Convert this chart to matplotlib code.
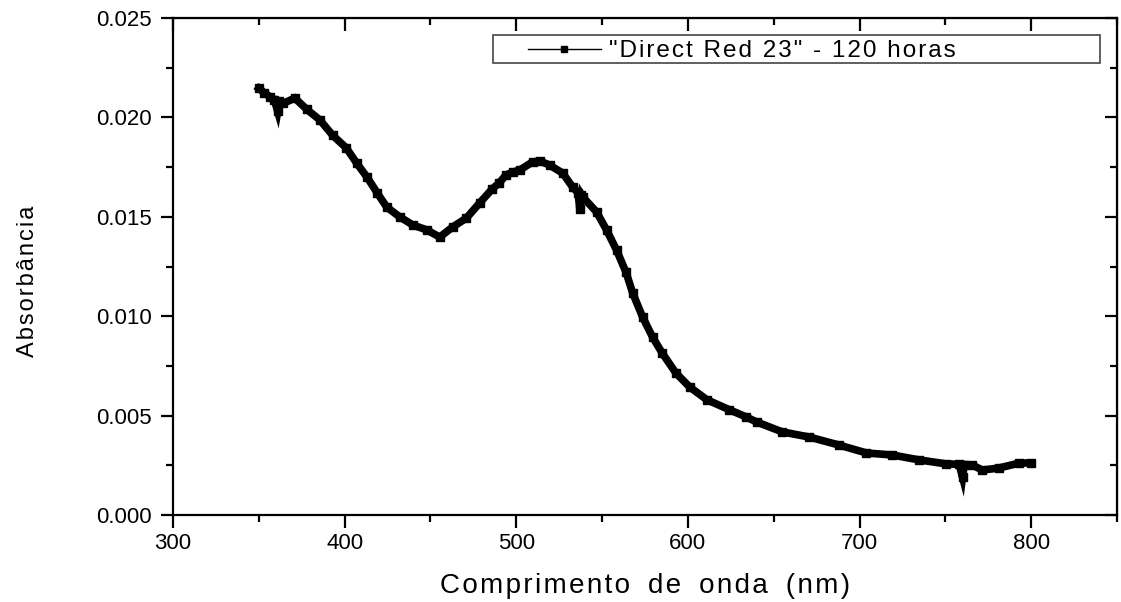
import matplotlib
matplotlib.use("Agg")
import matplotlib.pyplot as plt
from matplotlib.lines import Line2D
from matplotlib.patches import Rectangle
from matplotlib.ticker import MultipleLocator, FormatStrFormatter

wavelength = [350, 353, 356.5, 359, 361, 362, 364, 371, 378, 385.6, 393, 401, 407,
              413, 419, 424.5, 432, 439.7, 447.8, 455.4, 463, 471, 478.7, 486, 490,
              494, 498, 502, 509.5, 514, 519.4, 527, 532.8, 536, 537, 538, 538.7,
              546.8, 552.6, 558.4, 564, 567.8, 573.6, 579.4, 585, 593, 601, 611,
              624, 634, 640, 655, 670.8, 688, 704, 719, 734.8, 750.5, 758, 760, 761,
              765.6, 771.5, 781, 793, 800]
absorbance = [0.02146, 0.02125, 0.02104, 0.0209, 0.0203, 0.0208, 0.0207, 0.02097,
              0.0204, 0.01987, 0.0191, 0.01846, 0.0177, 0.0170, 0.0162, 0.01549,
              0.0150, 0.01459, 0.01434, 0.01398, 0.01449, 0.01494, 0.0157, 0.0164,
              0.0167, 0.0171, 0.01725, 0.01735, 0.01776, 0.0178, 0.0176, 0.0172,
              0.0165, 0.0162, 0.0154, 0.0161, 0.0160, 0.01524, 0.01434, 0.01333,
              0.0122, 0.01117, 0.00996, 0.00895, 0.00815, 0.00714, 0.00644, 0.0058,
              0.0053, 0.00493, 0.00468, 0.00418, 0.00392, 0.00352, 0.00312, 0.00302,
              0.00277, 0.00257, 0.00255, 0.0019, 0.00254, 0.00252, 0.00226, 0.00236,
              0.00261, 0.00262]
series_label = '"Direct Red 23" - 120 horas'
x_label = "Comprimento de onda (nm)"
y_label = "Absorbância"
x_ticks = [300, 400, 500, 600, 700, 800]

plt.rcParams['font.family'] = ['Liberation Sans', 'DejaVu Sans']

HAIR = '\u200a'
THIN = '\u2009'


def spaced(s, sep=HAIR, word_extra=''):
    out = sep.join(s)
    if word_extra:
        out = out.replace(' ', ' ' + word_extra)
    return out


fig = plt.figure(figsize=(11.21, 6.02), dpi=100)
ax = fig.add_axes([173/1121, 87/602, 944/1121, 497/602])

ax.plot(wavelength, absorbance, color='black', lw=5.5, marker='s', ms=5.5,
        solid_joinstyle='miter')

ax.set_xlim(300, 850)
ax.set_ylim(0, 0.025)
ax.set_xticks(x_ticks)
ax.xaxis.set_minor_locator(MultipleLocator(50))
ax.yaxis.set_major_locator(MultipleLocator(0.005))
ax.yaxis.set_minor_locator(MultipleLocator(0.0025))
ax.yaxis.set_major_formatter(FormatStrFormatter('%.3f'))

for s in ax.spines.values():
    s.set_linewidth(1.6)

ax.tick_params(axis='both', which='major', direction='out', length=9, width=1.6,
               labelsize=16)
ax.tick_params(axis='x', which='major', pad=4)
ax.tick_params(axis='y', which='major', pad=6)
ax.tick_params(axis='both', which='minor', direction='out', length=5, width=1.6)

# top and right ticks pointing inward
axt = ax.secondary_xaxis('top')
axt.xaxis.set_major_locator(MultipleLocator(100))
axt.xaxis.set_minor_locator(MultipleLocator(50))
axt.tick_params(which='major', direction='in', length=9, width=1.6, labeltop=False)
axt.tick_params(which='minor', direction='in', length=5, width=1.6)
axr = ax.secondary_yaxis('right')
axr.yaxis.set_major_locator(MultipleLocator(0.005))
axr.yaxis.set_minor_locator(MultipleLocator(0.0025))
axr.tick_params(which='major', direction='in', length=9, width=1.6, labelright=False)
axr.tick_params(which='minor', direction='in', length=5, width=1.6)

ax.set_xlabel(spaced(x_label, HAIR, THIN), fontsize=20)
ax.xaxis.set_label_coords(0.5, -0.116)
ax.set_ylabel(spaced(y_label), fontsize=17)
ax.yaxis.set_label_coords(-0.142, 0.471)

# legend frame (wide Origin-style box)
ax.add_patch(Rectangle((0.339, 0.9095), 0.643, 0.0563, transform=ax.transAxes,
                       facecolor='white', edgecolor='#444444', lw=1.2, zorder=4))
handle = Line2D([], [], color='black', lw=1, marker='s', ms=4)
leg = ax.legend([handle], [spaced(series_label)], loc='center left',
                bbox_to_anchor=(0.376, 0.9336), borderaxespad=0, borderpad=0,
                fontsize=17.5, frameon=False, handlelength=3.0,
                handletextpad=0.35)
leg.set_zorder(5)

fig.savefig('out.png', dpi=100)
